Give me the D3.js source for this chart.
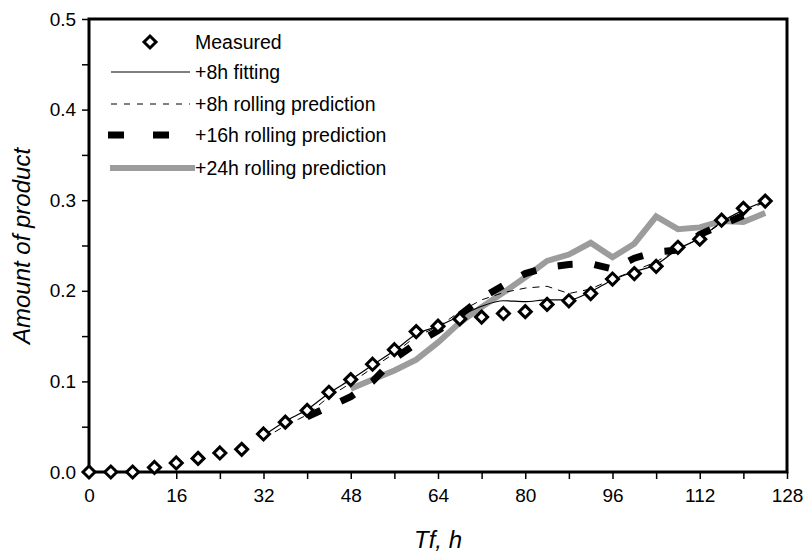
<!DOCTYPE html>
<html>
<head>
<meta charset="utf-8">
<script src="https://cdn.jsdelivr.net/npm/d3@7"></script>
<style>
  html, body { margin: 0; padding: 0; background: #fff; }
  svg { display: block; font-family: Arial, "Liberation Sans", sans-serif; }
</style>
</head>
<body>
<svg id="chart" width="806" height="553"></svg>
<script>
// ---- data ----
const measuredT = [0,4,8,12,16,20,24,28,32,36,40,44,48,52,56,60,64,68,72,76,80,84,88,92,96,100,104,108,112,116,120,124];
const measuredV = [0,0,0,0.005,0.01,0.015,0.021,0.025,0.042,0.055,0.068,0.088,0.102,0.119,0.135,0.155,0.161,0.169,0.171,0.175,0.177,0.185,0.189,0.197,0.213,0.219,0.227,0.248,0.257,0.278,0.291,0.299];

const fitT = [32,36,40,44,48,52,56,60,64,68,72,76,80,84,88,92,96,100,104,108,112,116,120,124];
const fitV = [0.040,0.056,0.069,0.087,0.102,0.118,0.134,0.152,0.161,0.172,0.183,0.189,0.188,0.190,0.190,0.199,0.212,0.221,0.229,0.246,0.258,0.276,0.289,0.299];

const roll8T = [32,36,40,44,48,52,56,60,64,68,72,76,80,84,88,92,96,100,104,108,112,116,120,124];
const roll8V = [0.037,0.051,0.063,0.083,0.098,0.115,0.131,0.150,0.160,0.177,0.190,0.198,0.203,0.205,0.197,0.202,0.213,0.222,0.232,0.246,0.258,0.275,0.287,0.298];

const roll16T = [40,44,48,52,56,60,64,68,72,76,80,84,88,92,96,100,104,108,112,116,120];
const roll16V = [0.061,0.072,0.083,0.100,0.125,0.142,0.156,0.173,0.192,0.206,0.219,0.226,0.229,0.230,0.224,0.236,0.243,0.245,0.262,0.273,0.283];

const roll24T = [48,52,56,60,64,68,72,76,80,84,88,92,96,100,104,108,112,116,120,124];
const roll24V = [0.092,0.102,0.112,0.124,0.143,0.165,0.182,0.198,0.215,0.233,0.240,0.253,0.237,0.252,0.282,0.268,0.270,0.277,0.276,0.286];

const xTicks = [0,16,32,48,64,80,96,112,128];
const yTicks = [0,0.1,0.2,0.3,0.4,0.5];
const xMinor = d3.range(0,129,8);
const yMinor = d3.range(0,0.501,0.05);

const legendLabels = ["Measured","+8h fitting","+8h rolling prediction","+16h rolling prediction","+24h rolling prediction"];

// ---- layout ----
const svg = d3.select("#chart");
const L = 89, R = 787, T = 19, B = 472;
const x = d3.scaleLinear().domain([0,128]).range([L,R]);
const y = d3.scaleLinear().domain([0,0.5]).range([B,T]);

const zip = (ts, vs) => ts.map((t,i) => ({t, v: vs[i]}));
const line = d3.line().x(d => x(d.t)).y(d => y(d.v));

// axes
const xAxis = svg.append("g").attr("transform", `translate(0,${B})`)
  .call(d3.axisBottom(x).tickValues(xMinor).tickSize(7).tickFormat(d => xTicks.includes(d) ? d : ""));
xAxis.select(".domain").remove();
xAxis.selectAll(".tick line").attr("stroke","#000").attr("stroke-width",1.5);
xAxis.selectAll(".tick text").attr("font-size","19px").attr("fill","#000").attr("dy","1.05em");

const yAxis = svg.append("g").attr("transform", `translate(${L},0)`)
  .call(d3.axisLeft(y).tickValues(yMinor).tickSize(7).tickFormat(d => {
    const r = Math.round(d*100)/100;
    return yTicks.some(t => Math.abs(t-r)<1e-9) ? d3.format(".1f")(r) : "";
  }));
yAxis.select(".domain").remove();
yAxis.selectAll(".tick line").attr("stroke","#000").attr("stroke-width",1.5);
yAxis.selectAll(".tick text").attr("font-size","19px").attr("fill","#000").attr("dx","-0.15em");

// frame
svg.append("rect").attr("x",L).attr("y",T).attr("width",R-L).attr("height",B-T)
  .attr("fill","none").attr("stroke","#000").attr("stroke-width",3);

// series
svg.append("path").datum(zip(roll24T, roll24V)).attr("d", line)
  .attr("fill","none").attr("stroke","#9c9c9c").attr("stroke-width",6);
svg.append("path").datum(zip(roll16T, roll16V)).attr("d", line)
  .attr("fill","none").attr("stroke","#000").attr("stroke-width",7).attr("stroke-dasharray","15,22");
svg.append("path").datum(zip(roll8T, roll8V)).attr("d", line)
  .attr("fill","none").attr("stroke","#000").attr("stroke-width",1).attr("stroke-dasharray","7,6");
svg.append("path").datum(zip(fitT, fitV)).attr("d", line.curve(d3.curveMonotoneX))
  .attr("fill","none").attr("stroke","#000").attr("stroke-width",1.2);
line.curve(d3.curveLinear);

const diamond = "M0,-6L6,0L0,6L-6,0Z";
svg.append("g").selectAll("path").data(zip(measuredT, measuredV)).join("path")
  .attr("d", diamond).attr("transform", d => `translate(${x(d.t)},${y(d.v)})`)
  .attr("fill","#fff").attr("stroke","#000").attr("stroke-width",3);

// axis titles
svg.append("text").attr("x", 438).attr("y", 548).attr("text-anchor","middle")
  .attr("font-size","24px").attr("font-style","italic").text("Tf, h");
svg.append("text").attr("transform","translate(30,246) rotate(-90)").attr("text-anchor","middle")
  .attr("font-size","24px").attr("font-style","italic").text("Amount of product");

// legend
const rows = [42, 72, 104, 135, 168];
const lg = svg.append("g");
const lx0 = 111, lx1 = 190, tx = 195;
// Measured
lg.append("path").attr("d", diamond).attr("transform", `translate(150,${rows[0]})`)
  .attr("fill","#fff").attr("stroke","#000").attr("stroke-width",3);
lg.append("line").attr("x1",lx0).attr("x2",lx1).attr("y1",rows[1]).attr("y2",rows[1])
  .attr("stroke","#000").attr("stroke-width",1.2);
lg.append("line").attr("x1",lx0).attr("x2",lx1).attr("y1",rows[2]).attr("y2",rows[2])
  .attr("stroke","#000").attr("stroke-width",1).attr("stroke-dasharray","6,7");
lg.append("line").attr("x1",108).attr("x2",170).attr("y1",rows[3]).attr("y2",rows[3])
  .attr("stroke","#000").attr("stroke-width",7).attr("stroke-dasharray","16,29");
lg.append("line").attr("x1",110).attr("x2",195).attr("y1",rows[4]).attr("y2",rows[4])
  .attr("stroke","#9c9c9c").attr("stroke-width",6);
lg.selectAll("text").data(legendLabels).join("text")
  .attr("x", tx).attr("y", (d,i) => rows[i]).attr("dy","0.36em")
  .attr("font-size","19.5px").attr("fill","#000").text(d => d);
</script>
</body>
</html>
